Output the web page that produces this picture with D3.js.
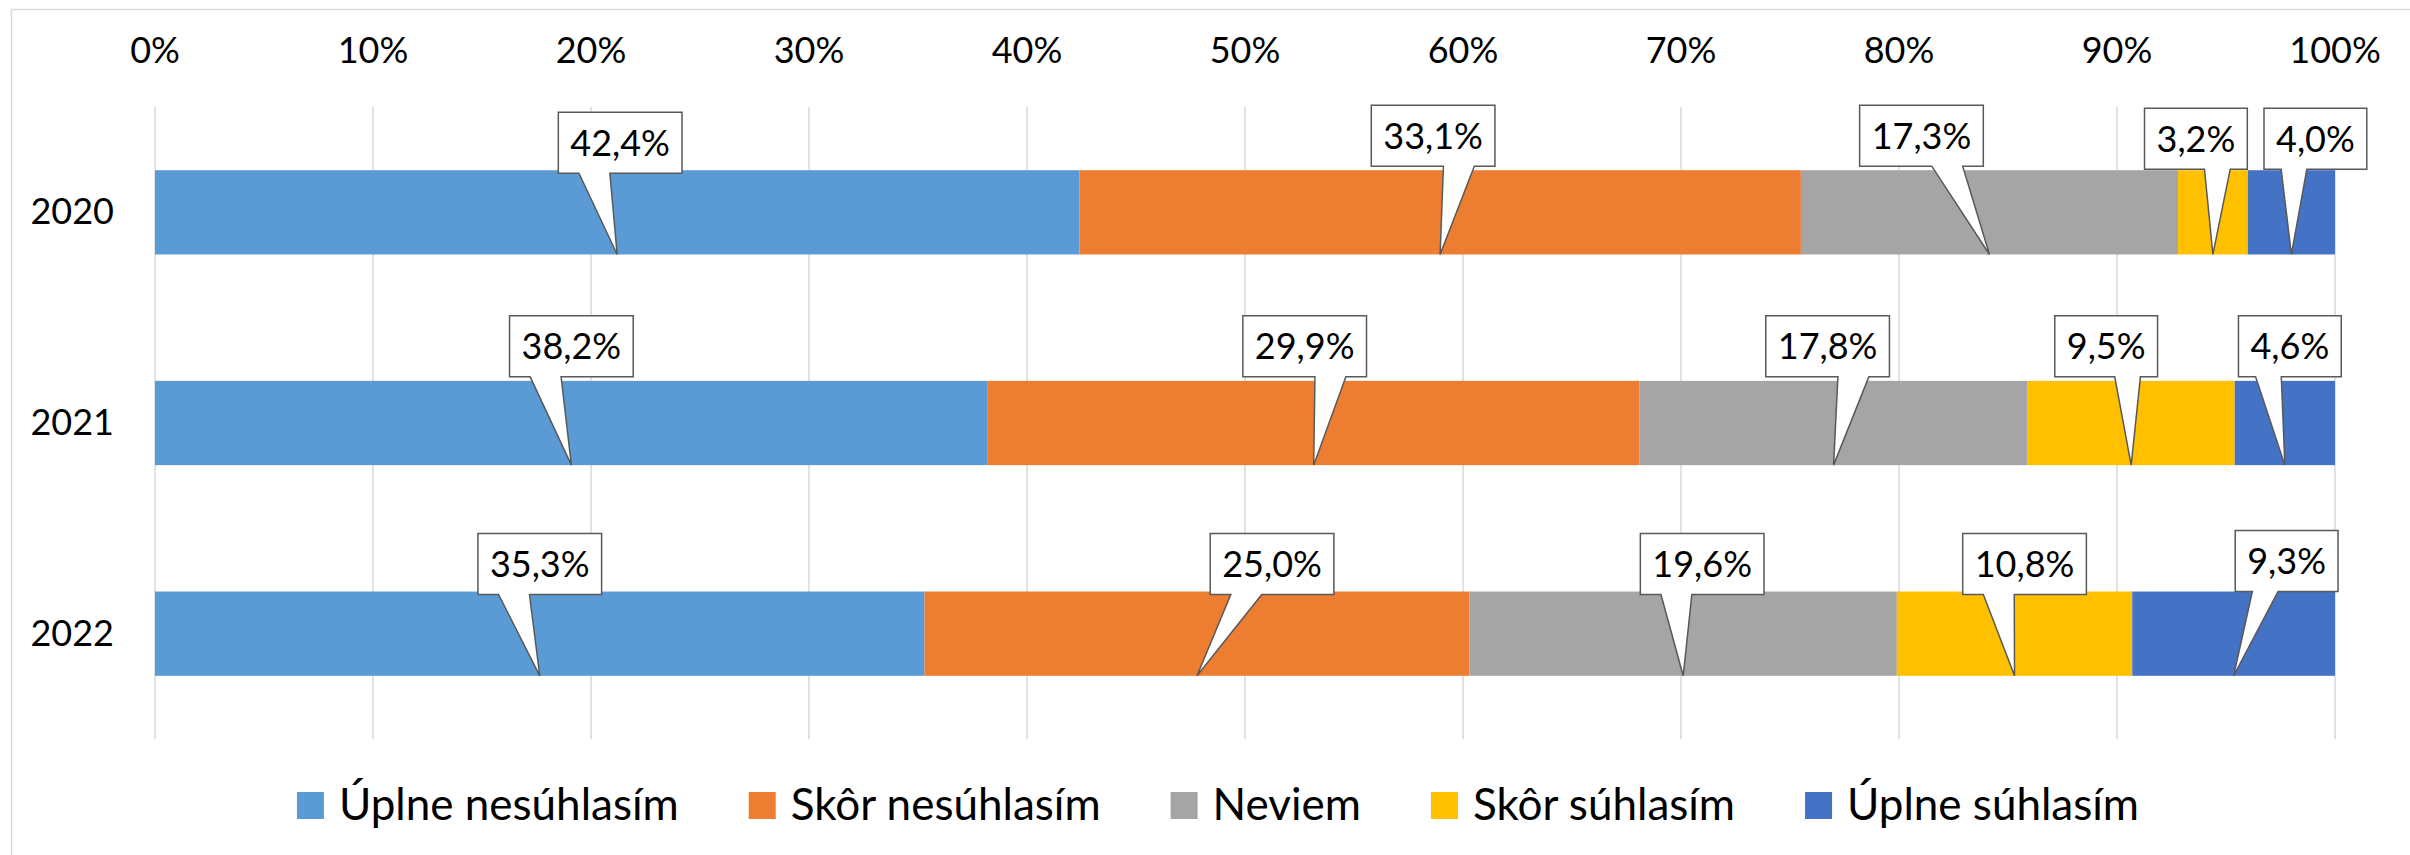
<!DOCTYPE html>
<html>
<head>
<meta charset="utf-8">
<script src="https://cdn.jsdelivr.net/npm/d3@7"></script>
<style>
    body { margin: 0; background: #fff; }
    text { font-family: Lato, "Noto Sans", sans-serif; fill: #000; }
</style>
</head>
<body>
<svg id="chart"></svg>
<script>
// chart data
let years = ["2020", "2021", "2022"];
let categories = ["Úplne nesúhlasím", "Skôr nesúhlasím", "Neviem", "Skôr súhlasím", "Úplne súhlasím"];
let fullyDisagree = [42.4, 38.2, 35.3];
let ratherDisagree = [33.1, 29.9, 25.0];
let dontKnow = [17.3, 17.8, 19.6];
let ratherAgree = [3.2, 9.5, 10.8];
let fullyAgree = [4.0, 4.6, 9.3];
let tickValues = [0, 10, 20, 30, 40, 50, 60, 70, 80, 90, 100];

let colors = ["#5B9BD5", "#ED7D31", "#A5A5A5", "#FFC000", "#4472C4"];

// where each callout box sits relative to its pointer (px), per year
let calloutShift = [
    [[3, -58], [-7, -65], [-68, -65], [-17, -62], [24, -62]],
    [[0, -65], [-9, -65], [-6, -65], [-25, -65], [5, -65]],
    [[0, -58], [75, -58], [19, -58], [10, -58], [53, -61]]
];

let width = 2410,
    height = 855;

let svg = d3.select('#chart')
    .attr('width', width)
    .attr('height', height);

svg.append('rect')
    .attr('width', width)
    .attr('height', height)
    .style('fill', '#fff');

// chart area border (only left and top are in the picture)
svg.append('path')
    .attr('d', 'M11.5,' + height + 'V9.5H' + width)
    .style('fill', 'none')
    .style('stroke', '#d9d9d9')
    .style('stroke-width', 1.5);

let x = d3.scaleLinear()
    .domain([0, 100])
    .range([155, 2335]);

let y = d3.scaleBand()
    .domain(years)
    .range([107, 739])
    .paddingInner(0.6)
    .paddingOuter(0.3);

let slovak = d3.formatLocale({decimal: ",", thousands: " ", grouping: [3], currency: ["", " €"]});
let fmt = slovak.format(".1f");

// gridlines + top axis labels
svg.append('g')
    .selectAll('line')
    .data(tickValues)
    .enter()
    .append('line')
    .attr('x1', function(d) { return x(d); })
    .attr('x2', function(d) { return x(d); })
    .attr('y1', 107)
    .attr('y2', 739)
    .style('stroke', '#d9d9d9')
    .style('stroke-width', 1.5);

svg.append('g')
    .selectAll('text')
    .data(tickValues)
    .enter()
    .append('text')
    .attr('x', function(d) { return x(d); })
    .attr('y', 63)
    .attr('text-anchor', 'middle')
    .style('font-size', '36px')
    .text(function(d) { return d + '%'; });

// year labels
svg.append('g')
    .selectAll('text')
    .data(years)
    .enter()
    .append('text')
    .attr('x', 114)
    .attr('y', function(d) { return y(d) + y.bandwidth() / 2 + 12; })
    .attr('text-anchor', 'end')
    .style('font-size', '36px')
    .text(function(d) { return d; });

// stack the series
let rows = years.map(function(yr, i) {
    return {
        year: yr,
        values: [fullyDisagree[i], ratherDisagree[i], dontKnow[i], ratherAgree[i], fullyAgree[i]]
    };
});

let stack = d3.stack()
    .keys(d3.range(categories.length))
    .value(function(d, k) { return d.values[k]; });

let series = stack(rows);

svg.append('g')
    .selectAll('g')
    .data(series)
    .enter()
    .append('g')
    .style('fill', function(d) { return colors[d.key]; })
    .selectAll('rect')
    .data(function(d) { return d; })
    .enter()
    .append('rect')
    .attr('x', function(d) { return x(d[0]); })
    .attr('width', function(d) { return x(d[1]) - x(d[0]); })
    .attr('y', function(d) { return y(d.data.year); })
    .attr('height', y.bandwidth());

// callouts (Excel wedgeRectCallout shape)
let callouts = [];
series.forEach(function(s) {
    s.forEach(function(d, i) {
        callouts.push({
            row: i,
            key: s.key,
            value: d[1] - d[0],
            tipX: x((d[0] + d[1]) / 2),
            tipY: y(d.data.year) + y.bandwidth(),
            barTop: y(d.data.year)
        });
    });
});

let boxH = 61;
let cg = svg.append('g');

callouts.forEach(function(c) {
    let g = cg.append('g');
    let path = g.append('path');
    let label = g.append('text')
        .style('font-size', '36px')
        .attr('text-anchor', 'middle')
        .text(fmt(c.value) + '%');

    let w = label.node().getComputedTextLength() + 24;
    let shift = calloutShift[c.row][c.key];
    let cx = c.tipX + shift[0];
    let top = c.barTop + shift[1];
    let l = cx - w / 2, r = cx + w / 2, b = top + boxH;

    // the tail base sits on the bottom edge, side depends on where the tip is
    let x1, x2;
    if (c.tipX - cx > 0) {
        x1 = l + w * 7 / 12; x2 = l + w * 10 / 12;
    } else {
        x1 = l + w * 2 / 12; x2 = l + w * 5 / 12;
    }

    path.attr('d', 'M' + l + ',' + top + 'H' + r + 'V' + b + 'H' + x2 +
            'L' + c.tipX + ',' + c.tipY + 'L' + x1 + ',' + b + 'H' + l + 'Z')
        .style('fill', '#fff')
        .style('stroke', '#595959')
        .style('stroke-width', 1.5)
        .style('stroke-linejoin', 'miter');

    label.attr('x', cx).attr('y', top + boxH / 2 + 13);
});

// legend
let legend = svg.append('g');
let items = legend.selectAll('g')
    .data(categories)
    .enter()
    .append('g');

items.append('rect')
    .attr('width', 27)
    .attr('height', 27)
    .attr('y', 792)
    .style('fill', function(d, i) { return colors[i]; });

items.append('text')
    .attr('x', 42)
    .attr('y', 820)
    .style('font-size', '44px')
    .text(function(d) { return d; });

let itemW = [];
items.each(function() {
    itemW.push(42 + d3.select(this).select('text').node().getComputedTextLength());
});
let gap = 70;
let total = d3.sum(itemW) + gap * (itemW.length - 1);
let pos = 1218 - total / 2;
items.attr('transform', function(d, i) {
    let t = 'translate(' + pos + ',0)';
    pos += itemW[i] + gap;
    return t;
});
</script>
</body>
</html>
